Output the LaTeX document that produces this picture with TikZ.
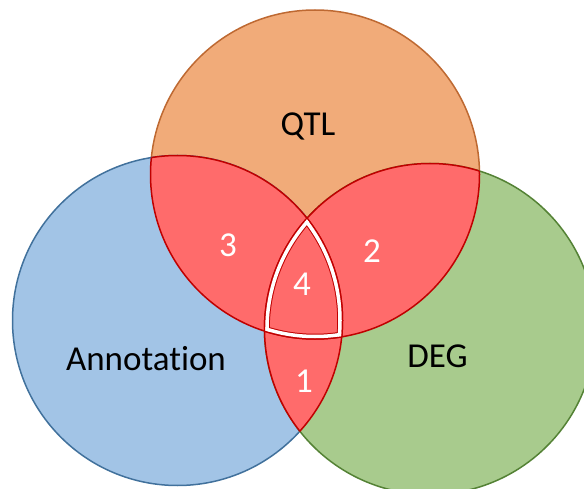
\documentclass[tikz,border=0pt]{standalone}
\usepackage{fontspec}
\setmainfont{Carlito}[Ligatures=NoCommon]
\definecolor{qfill}{RGB}{241,171,121}
\definecolor{qline}{RGB}{190,105,50}
\definecolor{afill}{RGB}{162,196,230}
\definecolor{aline}{RGB}{65,113,156}
\definecolor{dfill}{RGB}{168,203,141}
\definecolor{dline}{RGB}{84,130,53}
\definecolor{rfill}{RGB}{255,107,107}
\definecolor{rline}{RGB}{192,0,0}
\def\rQ{164.5}
\def\rA{165}
\def\rD{165.5}
\begin{document}
\begin{tikzpicture}[x=1pt,y=-1pt,
  lab/.style={font=\fontsize{35}{40}\selectfont, anchor=base, inner sep=0pt},
  num/.style={lab, text=white},
  rim/.style={line width=1.5pt}]
\useasboundingbox (0,0) rectangle (584,489);
\clip (0,0) rectangle (584,489);
\coordinate (cQ) at (315,174.5);
\coordinate (cA) at (177.5,320.5);
\coordinate (cD) at (430,329);
% base circles
\draw[rim, draw=qline, fill=qfill] (cQ) circle[radius=\rQ pt];
\draw[rim, draw=aline, fill=afill] (cA) circle[radius=\rA pt];
\draw[rim, draw=dline, fill=dfill] (cD) circle[radius=\rD pt];
% red overlaps
\begin{scope}
  \clip (cQ) circle[radius=\rQ pt];
  \fill[rfill] (cA) circle[radius=\rA pt];
  \fill[rfill] (cD) circle[radius=\rD pt];
\end{scope}
\begin{scope}
  \clip (cA) circle[radius=\rA pt];
  \fill[rfill] (cD) circle[radius=\rD pt];
\end{scope}
% dark red borders of overlaps
\begin{scope}\clip (cA) circle[radius=\rA pt]; \draw[rim, rline] (cQ) circle[radius=\rQ pt]; \draw[rim, rline] (cD) circle[radius=\rD pt];\end{scope}
\begin{scope}\clip (cQ) circle[radius=\rQ pt]; \draw[rim, rline] (cA) circle[radius=\rA pt]; \draw[rim, rline] (cD) circle[radius=\rD pt];\end{scope}
\begin{scope}\clip (cD) circle[radius=\rD pt]; \draw[rim, rline] (cQ) circle[radius=\rQ pt]; \draw[rim, rline] (cA) circle[radius=\rA pt];\end{scope}
% white outline of the triple overlap
\begin{scope}
  \clip (cQ) circle[radius=\rQ pt-0.75pt];
  \clip (cA) circle[radius=\rA pt-0.75pt];
  \clip (cD) circle[radius=\rD pt-0.75pt];
  \draw[rline, line width=9pt] (cQ) circle[radius=\rQ pt-0.75pt];
  \draw[rline, line width=9pt] (cA) circle[radius=\rA pt-0.75pt];
  \draw[rline, line width=9pt] (cD) circle[radius=\rD pt-0.75pt];
  \draw[white, line width=7pt] (cQ) circle[radius=\rQ pt-0.75pt];
  \draw[white, line width=7pt] (cA) circle[radius=\rA pt-0.75pt];
  \draw[white, line width=7pt] (cD) circle[radius=\rD pt-0.75pt];
\end{scope}
% labels
\node[lab] (qtl) at (308,136) {QTL};
\node[lab] (ann) at (146,370) {Annotation};
\node[lab] (deg) at (437.5,367) {DEG};
\node[num] (n3) at (228,256.5) {3};
\node[num] (n2) at (372,262.5) {2};
\node[num] (n4) at (302,295) {4};
\node[num] (n1) at (304,392) {1};
\end{tikzpicture}
\end{document}
